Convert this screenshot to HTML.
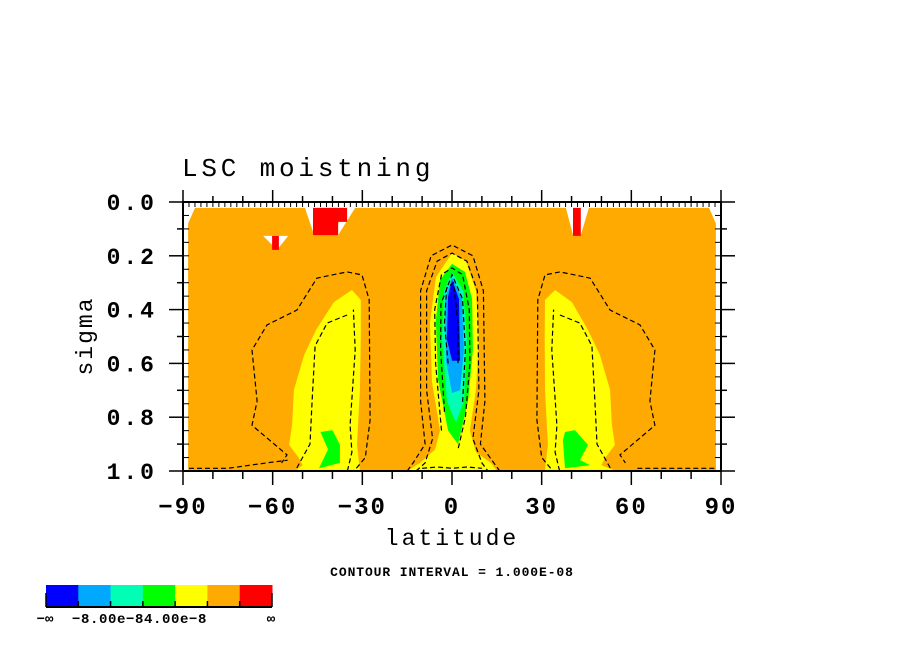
<!DOCTYPE html>
<html><head><meta charset="utf-8"><style>
html,body{margin:0;padding:0;background:#fff;}
svg{display:block;}
text{font-family:"Liberation Mono","DejaVu Sans Mono",monospace;fill:#000;}
</style></head><body>
<svg id="chart" width="904" height="654" viewBox="0 0 904 654" xmlns="http://www.w3.org/2000/svg">
<g id="plot"></g>
<g id="axes"></g>
<text x="182" y="176" font-size="26" letter-spacing="3.8">LSC moistning</text>
<text x="452" y="545" font-size="23" text-anchor="middle" letter-spacing="3">latitude</text>
<text transform="translate(92,336) rotate(-90)" font-size="23" text-anchor="middle" letter-spacing="2">sigma</text>
<text x="452" y="576" font-size="13" text-anchor="middle" font-weight="bold" letter-spacing="0.9">CONTOUR INTERVAL = 1.000E-08</text>
<g id="cbar"></g>
</svg>
<script>
const xTicks=[-90,-60,-30,0,30,60,90];
const yTicks=[0.0,0.2,0.4,0.6,0.8,1.0];
const yTickLabels=["0.0","0.2","0.4","0.6","0.8","1.0"];
const levelColors=["#0000ff","#00a8ff","#00ffb4","#00ff00","#ffff00","#ffaa00","#ff0000"];
const cbarLabels=["−∞","−8.00e−84.00e−8","∞"];
const orangeLat=[-88.3,-86,86,88.3,88.3,-88.3];
const orangeSig=[0.08,0.022,0.022,0.08,1.0,1.0];
const notchL=[[-49.2,0.022],[-46.5,0.022],[-46.5,0.11]];
const notchR=[[-35.1,0.022],[-32.4,0.022],[-38.1,0.123],[-38.1,0.08]];
const notchS=[[-63.2,0.126],[-54.8,0.126],[-58.5,0.178]];
const notchR2=[[38.1,0.022],[45.8,0.022],[43.1,0.123],[40.5,0.123]];
const redA=[[-46.5,0.022],[-35.1,0.022],[-35.1,0.074],[-38.1,0.074],[-38.1,0.123],[-46.5,0.123]];
const redB=[[-60.2,0.126],[-57.9,0.126],[-57.9,0.178],[-60.2,0.178]];
const redC=[[40.5,0.022],[43.1,0.022],[43.1,0.126],[40.5,0.126]];
const yellowR=[[31.1,0.364],[34.5,0.327],[40.1,0.372],[45.5,0.476],[49.5,0.569],[52.9,0.699],[53.5,0.829],[54.5,0.903],[51.2,0.952],[50,0.978],[54,0.996],[31.1,0.996],[32.1,0.903],[31.1,0.7],[31.0,0.5]];
const greenR=[[37.8,0.855],[41.1,0.848],[45.5,0.903],[42.8,0.959],[46.2,0.978],[37.8,0.99],[37.1,0.885]];
const yellowL=[[-30.5,0.364],[-33.5,0.327],[-39.5,0.372],[-45.5,0.476],[-49.5,0.569],[-52.9,0.699],[-53.5,0.829],[-54.5,0.903],[-51.2,0.952],[-50,0.978],[-52,0.996],[-30.8,0.996],[-31.8,0.903],[-30.8,0.7],[-30.5,0.5]];
const greenL=[[-44.0,0.855],[-40.0,0.848],[-37.5,0.903],[-37.5,0.97],[-44.5,0.99],[-41.5,0.92]];
const yellowC=[[0,0.19],[4.7,0.22],[8.0,0.33],[9.0,0.51],[8.0,0.70],[6.0,0.85],[8,0.93],[13,0.97],[15,1.0],[-15,1.0],[-10.7,0.97],[-5.7,0.92],[-4.0,0.85],[-6.7,0.67],[-7.4,0.45],[-5.4,0.28]];
const greenC=[[0,0.23],[4.3,0.26],[6.7,0.36],[7.0,0.55],[5.4,0.74],[2.0,0.90],[-1.3,0.85],[-4.7,0.66],[-5.4,0.44],[-4.0,0.29]];
const tealC=[[0,0.26],[3.7,0.33],[5.0,0.51],[4.0,0.74],[1.3,0.82],[-1.7,0.74],[-3.3,0.51],[-2.7,0.33]];
const lblueC=[[0,0.28],[3.3,0.36],[4.0,0.55],[2.7,0.70],[0,0.71],[-2.0,0.59],[-2.3,0.36]];
const blueC=[[0,0.29],[2.3,0.36],[2.7,0.59],[0,0.59],[-1.7,0.51],[-1.3,0.35]];
const dashC1=[[-15,1.0],[-13,0.97],[-9,0.9],[-10.5,0.74],[-10.5,0.33],[-7,0.2],[0,0.16],[7,0.2],[10.5,0.33],[11,0.74],[9.5,0.9],[14,0.97],[16,1.0]];
const dashC2=[[-12,1.0],[-9,0.97],[-6.5,0.88],[-8.5,0.7],[-8.5,0.33],[-5,0.22],[0,0.19],[5,0.22],[8.5,0.33],[9,0.7],[7,0.88],[10,0.97],[12,1.0]];
const dashC3=[[-3.5,0.85],[-5.5,0.6],[-5.8,0.4],[-3.5,0.27],[0,0.245],[3.5,0.27],[5.8,0.4],[6,0.6],[4.5,0.8],[2,0.92]];
const dashC4=[[-2.5,0.78],[-3.8,0.55],[-3.7,0.38],[0,0.27],[3.5,0.36],[4.5,0.55],[3.5,0.75]];
const dashC5=[[-1.3,0.6],[-2.5,0.45],[-1.8,0.32],[0.5,0.3],[2,0.45],[2,0.6]];
const dashC6=[[-10,0.99],[-5,0.985],[0,0.99],[5,0.985],[10,0.99]];
const dashR1=[[33,0.99],[30,0.95],[28.4,0.81],[28.7,0.364],[31.1,0.271],[36.1,0.260],[46.2,0.283],[52.9,0.402],[62.9,0.457],[67.9,0.55],[66.2,0.74],[67.9,0.83],[56.2,0.94],[58,0.97]];
const dashR2=[[36.1,0.42],[42.8,0.45],[46.8,0.535],[47.8,0.74],[48.5,0.90],[53,0.99]];
const dashR3=[[36,1.0],[34.5,0.93],[35.1,0.83],[33.4,0.55],[34,0.40]];
const dashR4=[[62,0.99],[75,0.99],[88,0.99]];
const dashL1=dashR1.map(p=>[-p[0]+1,p[1]]);
const dashL2=dashR2.map(p=>[-p[0]+1,p[1]]);
const dashL3=dashR3.map(p=>[-p[0]+1,p[1]]);
const dashL4=[[-88,0.99],[-75,0.99],[-62,0.97],[-55,0.96]];

const X0=183,X1=721,Y0=202,Y1=471;
const xs=v=>X0+(v+90)/180*(X1-X0);
const ys=v=>Y0+v*(Y1-Y0);
const NS="http://www.w3.org/2000/svg";
const plot=document.getElementById('plot'),axes=document.getElementById('axes'),cbar=document.getElementById('cbar');
function mk(tag,attrs,parent){const e=document.createElementNS(NS,tag);for(const k in attrs)e.setAttribute(k,attrs[k]);parent.appendChild(e);return e;}
const pts=a=>a.map(p=>xs(p[0]).toFixed(1)+','+ys(p[1]).toFixed(1)).join(' ');
function poly(a,fill,name){const e=mk('polygon',{points:pts(a),fill:fill},plot);

}
function dash(a,name){const e=mk('polyline',{points:pts(a),fill:'none',stroke:'#000','stroke-width':1.2,'stroke-dasharray':'5,3'},plot);

}
poly(orangeLat.map((v,i)=>[v,orangeSig[i]]),levelColors[5],'fill-orange');
[notchL,notchR,notchS,notchR2].forEach((n,i)=>poly(n,'#fff','white-gap-'+i));
poly(redA,levelColors[6],'fill-red-a');poly(redB,levelColors[6],'fill-red-b');poly(redC,levelColors[6],'fill-red-c');
poly(yellowL,levelColors[4],'fill-yellow-left');poly(yellowR,levelColors[4],'fill-yellow-right');
poly(greenL,levelColors[3],'fill-green-left');poly(greenR,levelColors[3],'fill-green-right');
poly(yellowC,levelColors[4],'fill-yellow-center');poly(greenC,levelColors[3],'fill-green-center');
poly(tealC,levelColors[2],'fill-teal-center');poly(lblueC,levelColors[1],'fill-lightblue-center');poly(blueC,levelColors[0],'fill-blue-center');
[dashC1,dashC2,dashC3,dashC4,dashC5,dashC6,dashR1,dashR2,dashR3,dashR4,dashL1,dashL2,dashL3,dashL4].forEach((d,i)=>dash(d,'contour-line-'+i));

const fr=mk('rect',{x:X0,y:Y0,width:X1-X0,height:Y1-Y0,fill:'none',stroke:'#000','stroke-width':2},axes);


for(let v=-90;v<=90;v+=2){const x=xs(v);const maj=v%30===0,mid=v%10===0;
 if(mid){const l=maj?12:6;
  mk('line',{x1:x,x2:x,y1:Y0,y2:Y0-l,stroke:'#000','stroke-width':1.5},axes);
  mk('line',{x1:x,x2:x,y1:Y1,y2:Y1+l+2,stroke:'#000','stroke-width':1.5},axes);}
 mk('line',{x1:x,x2:x,y1:Y0,y2:Y0+5,stroke:'#000','stroke-width':1},axes);
}
for(let i=0;i<=20;i++){const v=i*0.05,y=ys(v);
 if(i%2===0){const l=(i%4===0)?14:6;
  mk('line',{x1:X0,x2:X0-l,y1:y,y2:y,stroke:'#000','stroke-width':1.5},axes);
  mk('line',{x1:X1,x2:X1+l,y1:y,y2:y,stroke:'#000','stroke-width':1.5},axes);}
 mk('line',{x1:X0,x2:X0+6,y1:y,y2:y,stroke:'#000','stroke-width':1},axes);
 mk('line',{x1:X1,x2:X1-6,y1:y,y2:y,stroke:'#000','stroke-width':1},axes);
}
xTicks.forEach(v=>{const t=mk('text',{x:xs(v),y:514,'font-size':24,'text-anchor':'middle','letter-spacing':2,'font-weight':'bold'},axes);t.textContent=v<0?'−'+(-v):String(v);

});
yTicks.forEach((v,i)=>{const t=mk('text',{x:157,y:ys(v)+8,'font-size':23,'text-anchor':'end','letter-spacing':3,'font-weight':'bold'},axes);t.textContent=yTickLabels[i];

});

const CB0=46,CB1=272,CBY=585,CBH=22,w=(CB1-CB0)/levelColors.length;
levelColors.forEach((c,i)=>{const r=mk('rect',{x:CB0+i*w,y:CBY,width:w+0.5,height:CBH,fill:c},cbar);

});
mk('line',{x1:CB0,x2:CB1,y1:CBY+CBH,y2:CBY+CBH,stroke:'#000','stroke-width':2},cbar);
for(let i=0;i<=levelColors.length;i++){const x=CB0+i*w;const l=(i===0||i===levelColors.length)?14:6;mk('line',{x1:x,x2:x,y1:CBY+CBH,y2:CBY+CBH-l,stroke:'#000','stroke-width':1.5},cbar);}
const cbPos=[45,72,271];
cbarLabels.forEach((s,i)=>{const t=mk('text',{x:cbPos[i],y:623,'font-size':14,'font-weight':'bold','text-anchor':i===1?'start':'middle','letter-spacing':i===1?0.6:0},cbar);t.textContent=s;

});
</script>
</body></html>
